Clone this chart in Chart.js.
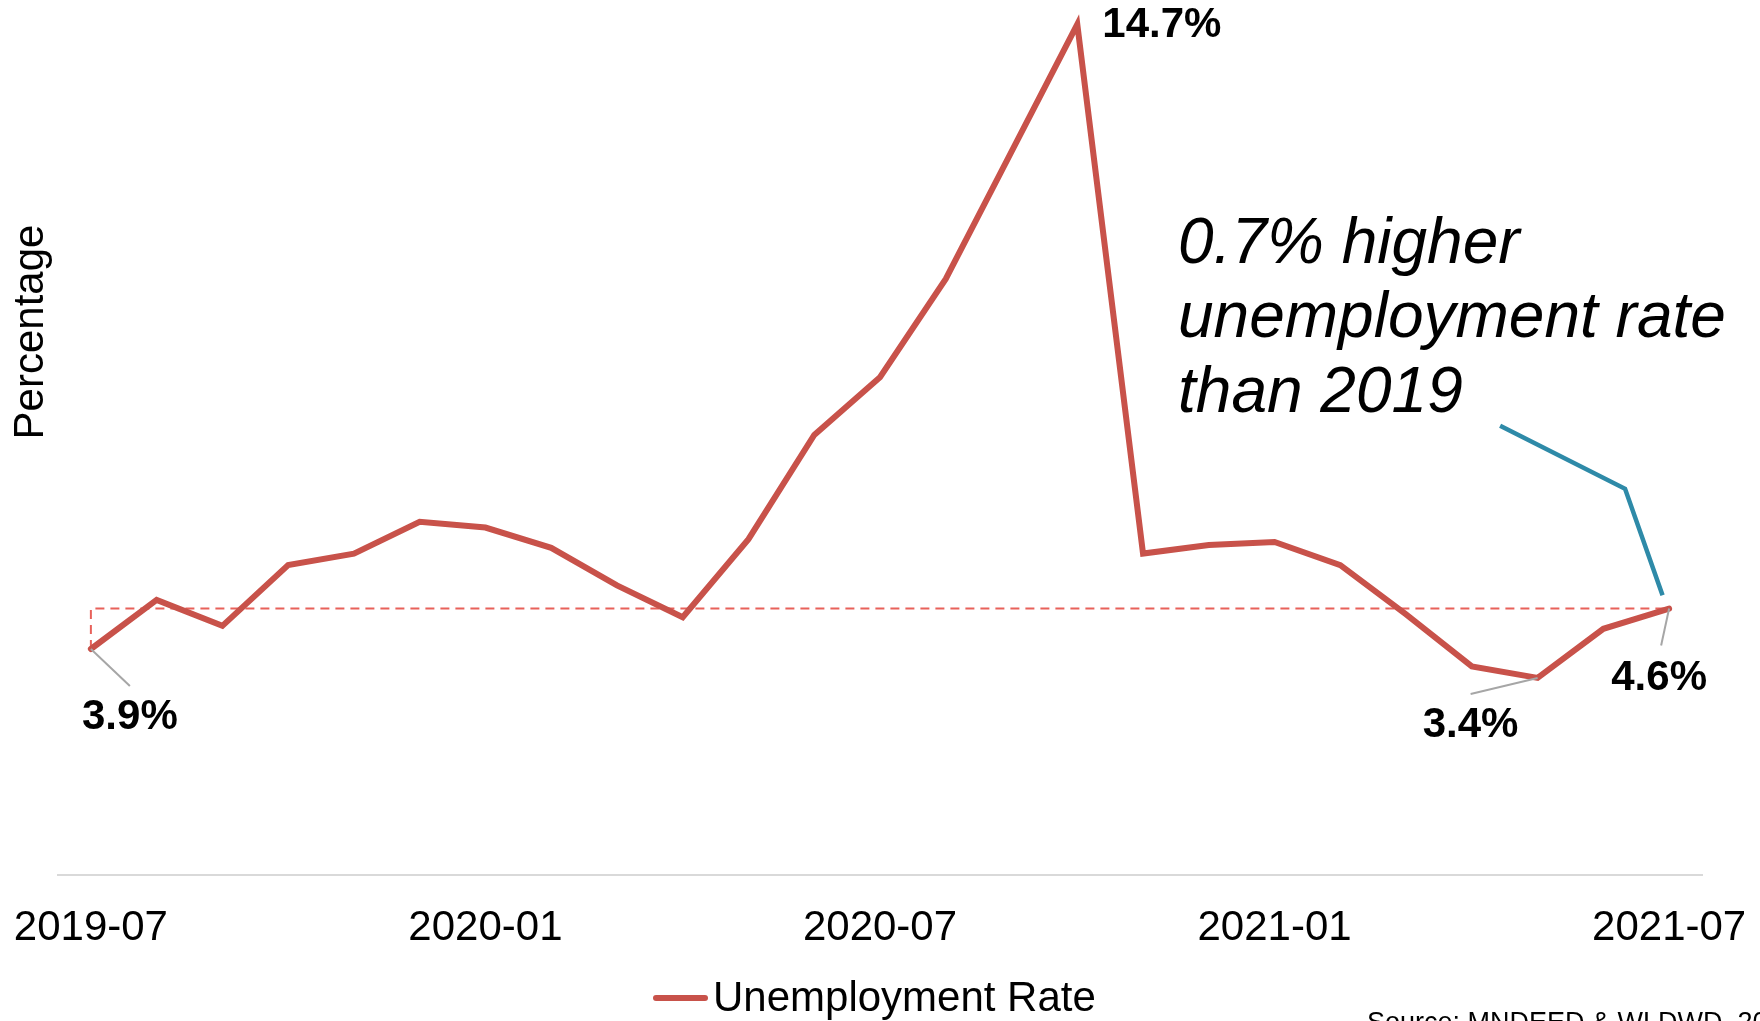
<!DOCTYPE html>
<html>
<head>
<meta charset="utf-8">
<script src="https://cdn.jsdelivr.net/npm/chart.js@4.4.0/dist/chart.umd.min.js"></script>
<style>
    html, body { margin: 0; padding: 0; background: #fff; }
    #wrap { width: 1760px; height: 1021px; }
</style>
</head>
<body>
<div id="wrap"><canvas id="rateChart" width="1760" height="1021"></canvas></div>
<script>
const months = [
    '2019-07', '2019-08', '2019-09', '2019-10', '2019-11', '2019-12',
    '2020-01', '2020-02', '2020-03', '2020-04', '2020-05', '2020-06',
    '2020-07', '2020-08', '2020-09', '2020-10', '2020-11', '2020-12',
    '2021-01', '2021-02', '2021-03', '2021-04', '2021-05', '2021-06',
    '2021-07'
];
const unemploymentRate = [
    3.9, 4.75, 4.3, 5.35, 5.55, 6.1,
    6.0, 5.65, 5.0, 4.45, 5.8, 7.6,
    8.6, 10.3, 12.5, 14.7, 5.55, 5.7,
    5.75, 5.35, 4.5, 3.6, 3.4, 4.25,
    4.6
];
const tickEvery = 6;

// dashed guide: from the 2019 value up to the 2021 level, then across
const guideMonths = ['2019-07', '2019-07', '2021-07'];
const guideValues = [3.9, 4.6, 4.6];

const labelledMonths = ['2019-07', '2020-10', '2021-05', '2021-07'];
const calloutLines = ['0.7% higher', 'unemployment rate', 'than 2019'];
const sourceText = 'Source: MNDEED & WLDWD, 2021';

const RED = '#c8524a';
const BLUE = '#2e8aa8';
const FONT = '"Liberation Sans", Arial, sans-serif';

// where each value label sits relative to its point (px)
const labelOffsets = {
    '2019-07': { leader: [39, 37], text: [39, 68], align: 'center' },
    '2020-10': { leader: null, text: [25, 1], align: 'left' },
    '2021-05': { leader: [-67, 16], text: [-67, 47], align: 'center' },
    '2021-07': { leader: [-8, 37], text: [-10, 70], align: 'center' }
};

const annotationPlugin = {
    id: 'annotations',
    afterDatasetsDraw(chart) {
        const { ctx, scales: { x, y } } = chart;
        ctx.save();

        // value labels with grey leader lines
        labelledMonths.forEach(m => {
            const i = months.indexOf(m);
            const px = x.getPixelForValue(i);
            const py = y.getPixelForValue(unemploymentRate[i]);
            const o = labelOffsets[m];
            if (o.leader) {
                ctx.strokeStyle = '#a6a6a6';
                ctx.lineWidth = 2;
                ctx.beginPath();
                ctx.moveTo(px, py);
                ctx.lineTo(px + o.leader[0], py + o.leader[1]);
                ctx.stroke();
            }
            ctx.fillStyle = '#000';
            ctx.font = 'bold 42px ' + FONT;
            ctx.textAlign = o.align;
            ctx.textBaseline = 'middle';
            ctx.fillText(unemploymentRate[i].toFixed(1) + '%', px + o.text[0], py + o.text[1]);
        });

        // callout arrow
        const arrow = [[21.43, 7.76], [23.33, 6.67], [23.9, 4.83]];
        ctx.strokeStyle = BLUE;
        ctx.lineWidth = 4.5;
        ctx.beginPath();
        arrow.forEach(([ax, ay], k) => {
            const px = x.getPixelForValue(ax);
            const py = y.getPixelForValue(ay);
            if (k === 0) ctx.moveTo(px, py); else ctx.lineTo(px, py);
        });
        ctx.stroke();

        // callout text
        ctx.fillStyle = '#000';
        ctx.font = 'italic 64px ' + FONT;
        ctx.textAlign = 'left';
        ctx.textBaseline = 'middle';
        calloutLines.forEach((line, k) => {
            ctx.fillText(line, 1178, 245 + k * 74.7);
        });

        ctx.restore();
    },
    afterDraw(chart) {
        const { ctx } = chart;
        ctx.save();
        // y axis title
        ctx.translate(31, 332);
        ctx.rotate(-Math.PI / 2);
        ctx.fillStyle = '#000';
        ctx.font = '42px ' + FONT;
        ctx.textAlign = 'center';
        ctx.textBaseline = 'middle';
        ctx.fillText('Percentage', 0, 0);
        ctx.restore();

        // legend, drawn by hand so it sits where the original has it
        const ds = chart.data.datasets[0];
        ctx.save();
        ctx.strokeStyle = ds.borderColor;
        ctx.lineWidth = 6;
        ctx.lineCap = 'round';
        ctx.beginPath();
        ctx.moveTo(656, 998);
        ctx.lineTo(705, 998);
        ctx.stroke();
        ctx.fillStyle = '#000';
        ctx.font = '42px ' + FONT;
        ctx.textAlign = 'left';
        ctx.textBaseline = 'alphabetic';
        ctx.fillText(ds.label, 713, 1011);
        ctx.restore();

        // source note (runs off the bottom edge like the original)
        ctx.save();
        ctx.fillStyle = '#000';
        ctx.font = '27px ' + FONT;
        ctx.textAlign = 'left';
        ctx.textBaseline = 'alphabetic';
        ctx.fillText(sourceText, 1367, 1031);
        ctx.restore();
    }
};

const ctx = document.getElementById('rateChart').getContext('2d');
new Chart(ctx, {
    type: 'line',
    data: {
        labels: months,
        datasets: [
            {
                label: 'Unemployment Rate',
                data: unemploymentRate,
                borderColor: RED,
                backgroundColor: RED,
                borderWidth: 6,
                borderCapStyle: 'round',
                pointRadius: 0,
                tension: 0,
                order: 0
            },
            {
                label: 'guide',
                data: guideMonths.map((m, k) => ({ x: m, y: guideValues[k] })),
                borderColor: '#e8615a',
                borderWidth: 2,
                borderDash: [9, 6],
                pointRadius: 0,
                tension: 0,
                order: 1
            }
        ]
    },
    options: {
        responsive: false,
        animation: false,
        devicePixelRatio: 1,
        layout: { padding: { left: 58, right: 58, top: 7, bottom: 38 } },
        scales: {
            x: {
                type: 'category',
                offset: true,
                grid: { display: false, drawTicks: false },
                border: { display: true, color: '#d9d9d9', width: 2 },
                ticks: {
                    autoSkip: false,
                    maxRotation: 0,
                    padding: 29,
                    color: '#000',
                    font: { family: FONT, size: 42 },
                    callback: (v, i) => (i % tickEvery === 0 ? months[i] : '')
                },
                afterFit: scale => {
                    // labels may hang into the side margins
                    scale.paddingLeft = 0;
                    scale.paddingRight = 0;
                }
            },
            y: {
                display: false,
                min: 0,
                max: 15
            }
        },
        plugins: {
            legend: { display: false },
            tooltip: { enabled: false }
        }
    },
    plugins: [annotationPlugin]
});
</script>
</body>
</html>
